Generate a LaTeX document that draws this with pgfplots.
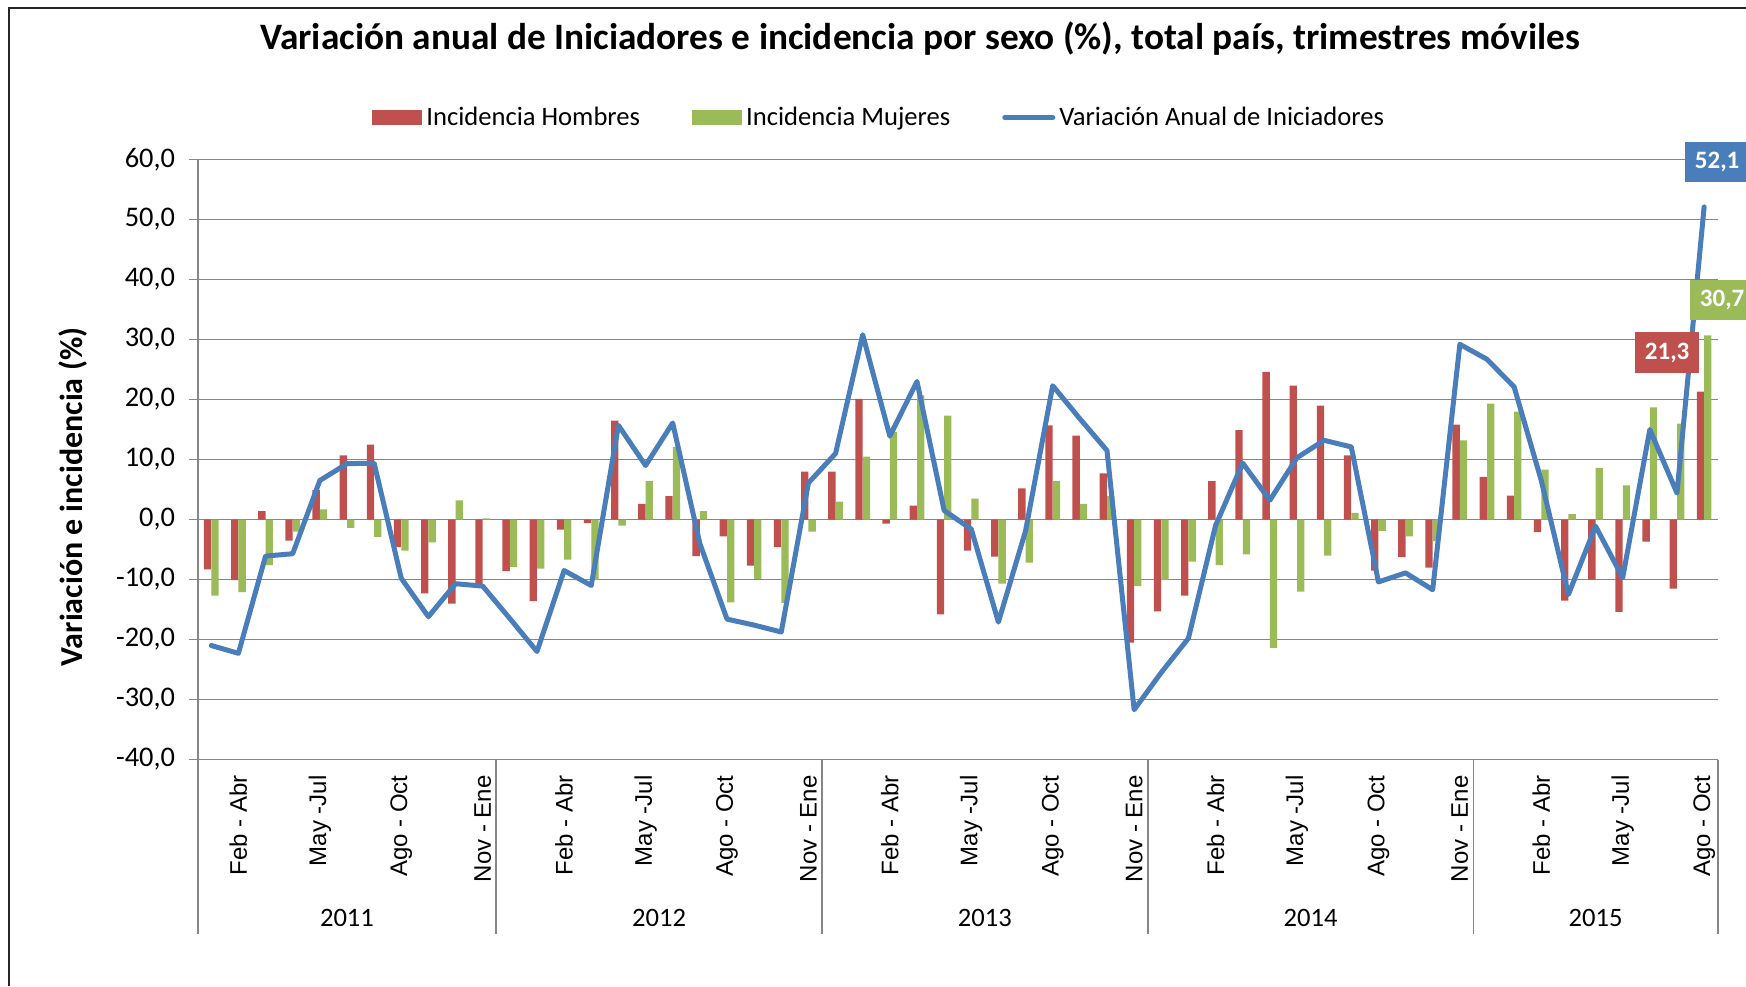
\documentclass[border=0pt]{standalone}
\usepackage{fontspec}
\setmainfont{Carlito}
\newfontfamily\arialf{Liberation Sans}
\usepackage{pgfplots}
\pgfplotsset{compat=1.18}
\usepackage{pgfplotstable}

\definecolor{cred}{HTML}{C0504D}
\definecolor{cgreen}{HTML}{9BBB59}
\definecolor{cblue}{HTML}{4A7EBB}
\definecolor{cgrid}{RGB}{134,134,134}

\pgfplotstableread{
i h m v
0 -8.3 -12.7 -21.0
1 -10.1 -12.1 -22.3
2 1.4 -7.6 -6.1
3 -3.5 -2.0 -5.7
4 4.9 1.7 6.5
5 10.7 -1.4 9.3
6 12.5 -2.9 9.4
7 -4.6 -5.2 -9.8
8 -12.3 -3.8 -16.2
9 -14.0 3.2 -10.7
10 -10.8 0.2 -11.1
11 -8.6 -7.9 -16.5
12 -13.6 -8.2 -22.0
13 -1.7 -6.7 -8.5
14 -0.6 -10.1 -11.0
15 16.5 -1.0 15.7
16 2.6 6.4 9.0
17 3.9 12.1 16.1
18 -6.1 1.4 -4.0
19 -2.8 -13.8 -16.6
20 -7.7 -9.9 -17.6
21 -4.6 -13.9 -18.75
22 8.0 -2.0 6.1
23 8.0 3.0 11.0
24 20.1 10.5 30.8
25 -0.7 14.6 13.9
26 2.3 20.7 23.0
27 -15.8 17.3 1.5
28 -5.2 3.5 -1.6
29 -6.2 -10.7 -17.1
30 5.2 -7.2 -1.9
31 15.7 6.4 22.3
32 14.0 2.6 16.8
33 7.7 3.9 11.5
34 -20.5 -11.1 -31.7
35 -15.3 -10.1 -25.5
36 -12.7 -7.0 -19.8
37 6.4 -7.6 -1.0
38 14.9 -5.8 9.4
39 24.6 -21.4 3.2
40 22.3 -12.0 10.3
41 19.0 -6.0 13.2
42 10.7 1.1 12.1
43 -8.5 -1.9 -10.4
44 -6.25 -2.8 -8.9
45 -8.0 -3.6 -11.7
46 15.8 13.2 29.2
47 7.1 19.3 26.7
48 4.0 18.0 22.1
49 -2.1 8.3 6.5
50 -13.5 0.9 -12.5
51 -10.0 8.6 -1.1
52 -15.4 5.7 -9.7
53 -3.7 18.7 15.0
54 -11.5 16.0 4.4
55 21.3 30.7 52.1
}\datatable

\begin{document}
\begin{tikzpicture}
\path[use as bounding box] (0,0) rectangle (873pt,-493pt);
\begin{axis}[
  at={(98.85pt,-379.75pt)}, anchor=south west,
  scale only axis, width=760pt, height=300pt,
  xmin=-0.5, xmax=55.5, ymin=-40, ymax=60,
  clip=false,
  axis x line*=bottom, axis y line*=left,
  axis line style={cgrid, line width=0.8pt},
  ytick={-40,-30,...,60},
  ymajorgrids, grid style={cgrid, line width=0.8pt},
  ytick style={cgrid, line width=0.8pt},
  tick align=outside, major tick length=4.5pt,
  yticklabel style={xshift=-3.3pt, font=\fontsize{14.2}{15}\selectfont, /pgf/number format/.cd, fixed, fixed zerofill, precision=1, use comma, assume math mode=true},
  xtick={1,4,...,55},
  xticklabels={Feb - Abr, May -Jul, Ago - Oct, Nov - Ene, Feb - Abr, May -Jul, Ago - Oct, Nov - Ene, Feb - Abr, May -Jul, Ago - Oct, Nov - Ene, Feb - Abr, May -Jul, Ago - Oct, Nov - Ene, Feb - Abr, May -Jul, Ago - Oct},
  xticklabel style={rotate=90, anchor=east, font=\arialf\fontsize{12}{12}\selectfont},
  xtick style={draw=none},
  legend style={at={(axis description cs:0.449,1.070)}, anchor=center, legend columns=-1, draw=none, fill=none, font=\fontsize{13.3}{14}\selectfont, /tikz/every even column/.append style={column sep=24pt}},
]
\addplot[ybar, bar width=3.65pt, bar shift=-1.85pt, fill=cred, draw=none,
  legend image code/.code={\fill[cred] (-1pt,-3.9pt) rectangle (24pt,3.9pt);}] table[x=i,y=h]{\datatable};
\addlegendentry{Incidencia Hombres}
\addplot[ybar, bar width=3.65pt, bar shift=1.85pt, fill=cgreen, draw=none,
  legend image code/.code={\fill[cgreen] (-1pt,-3.9pt) rectangle (24pt,3.9pt);}] table[x=i,y=m]{\datatable};
\addlegendentry{Incidencia Mujeres}
\addplot[cblue, line width=2.5pt, line join=round, line cap=round, mark=none,
  legend image code/.code={\draw[cblue, line width=2.5pt, line cap=round] (0pt,0pt) -- (24pt,0pt);}] table[x=i,y=v]{\datatable};
\addlegendentry{Variación Anual de Iniciadores}

\draw[cgrid, line width=0.8pt] (axis cs:-0.5,-40) -- ++(0pt,-87pt);
\draw[cgrid, line width=0.8pt] (axis cs:10.5,-40) -- ++(0pt,-87pt);
\draw[cgrid, line width=0.8pt] (axis cs:22.5,-40) -- ++(0pt,-87pt);
\draw[cgrid, line width=0.8pt] (axis cs:34.5,-40) -- ++(0pt,-87pt);
\draw[cgrid, line width=0.8pt] (axis cs:46.5,-40) -- ++(0pt,-87pt);
\draw[cgrid, line width=0.8pt] (axis cs:55.5,-40) -- ++(0pt,-87pt);

\node[font=\fontsize{13.3}{14}\selectfont, yshift=-79pt] at (axis cs:5,-40) {2011};
\node[font=\fontsize{13.3}{14}\selectfont, yshift=-79pt] at (axis cs:16.5,-40) {2012};
\node[font=\fontsize{13.3}{14}\selectfont, yshift=-79pt] at (axis cs:28.5,-40) {2013};
\node[font=\fontsize{13.3}{14}\selectfont, yshift=-79pt] at (axis cs:40.5,-40) {2014};
\node[font=\fontsize{13.3}{14}\selectfont, yshift=-79pt] at (axis cs:51,-40) {2015};

\node[fill=cblue, text=white, font=\bfseries\fontsize{12.5}{13}\selectfont, inner sep=0pt, minimum width=32pt, minimum height=20pt, xshift=6.5pt, yshift=22.3pt] at (axis cs:55,52.1) {52,1};
\node[fill=cgreen, text=white, font=\bfseries\fontsize{12.5}{13}\selectfont, inner sep=0pt, minimum width=32pt, minimum height=20pt, xshift=9pt, yshift=17.5pt] at (axis cs:55,30.7) {30,7};
\node[fill=cred, text=white, font=\bfseries\fontsize{12.5}{13}\selectfont, inner sep=0pt, minimum width=32pt, minimum height=20.5pt, xshift=-18.5pt, yshift=19.5pt] at (axis cs:55,21.3) {21,3};
\end{axis}
\node[font=\bfseries\fontsize{18.65}{19}\selectfont] at (460pt,-19.5pt) {Variación anual de Iniciadores e incidencia por sexo (\%), total país, trimestres móviles};
\node[rotate=90, font=\bfseries\fontsize{16}{16}\selectfont] at (36.75pt,-248.5pt) {Variación e incidencia (\%)};
\draw[line width=1.3pt, black!85] (4.5pt,-493pt) -- (4.5pt,-4pt) -- (873pt,-4pt);
\end{tikzpicture}
\end{document}
